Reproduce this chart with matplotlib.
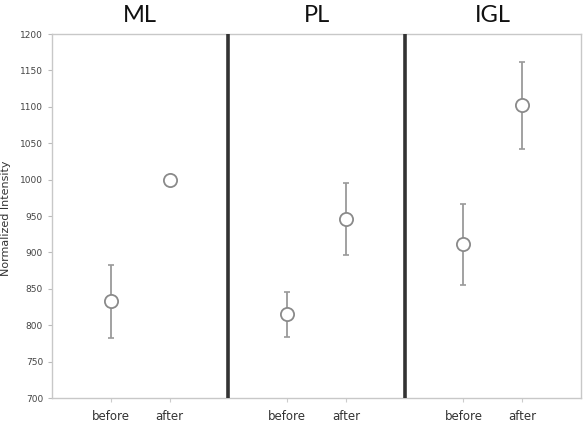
import matplotlib.pyplot as plt

groups = ["ML", "PL", "IGL"]
conditions = ["before", "after"]
means = [[833, 1000], [815, 946], [911, 1102]]
errors = [[50, 0], [31, 49], [56, 60]]

fig = plt.figure(figsize=(5.85, 4.37), dpi=100)
ax = fig.add_axes([52 / 585, 1 - 398 / 437, 529 / 585, 364 / 437])

xs, ys, es, labels = [], [], [], []
for g in range(len(groups)):
    for c in range(len(conditions)):
        xs.append(1 + 3 * g + c)
        ys.append(means[g][c])
        es.append(errors[g][c])
        labels.append(conditions[c])

ax.errorbar(xs, ys, yerr=es, fmt="none", ecolor="#9a9a9a", elinewidth=1.3,
            capsize=2.5, capthick=1.2, zorder=2)
ax.plot(xs, ys, "o", ms=9.5, mfc="white", mec="#8a8a8a", mew=1.3, zorder=3)

# group separators
for g in range(1, len(groups)):
    ax.axvline(3 * g, color="#333333", lw=2.6, zorder=4)

for g, name in enumerate(groups):
    ax.text(1.5 + 3 * g, 1.033, name, transform=ax.get_xaxis_transform(),
            ha="center", va="baseline", fontsize=17, family="Lato", color="#111111")

ax.set_xlim(0, 9)
ax.set_ylim(700, 1200)
ax.set_yticks(range(700, 1201, 50))
ax.set_xticks(xs)
ax.set_xticklabels(labels, fontsize=8.5, color="#333333")
ax.tick_params(axis="y", labelsize=6.5, colors="#444444", length=3, color="#bbbbbb")
ax.tick_params(axis="x", length=3, color="#cccccc", pad=6)
for s in ax.spines.values():
    s.set_color("#c8c8c8")
    s.set_linewidth(1)

fig.text(6 / 585, 0.5, "Normalized Intensity", rotation=90, ha="center", va="center",
         fontsize=8, color="#333333")

fig.savefig("out.png", dpi=100)
